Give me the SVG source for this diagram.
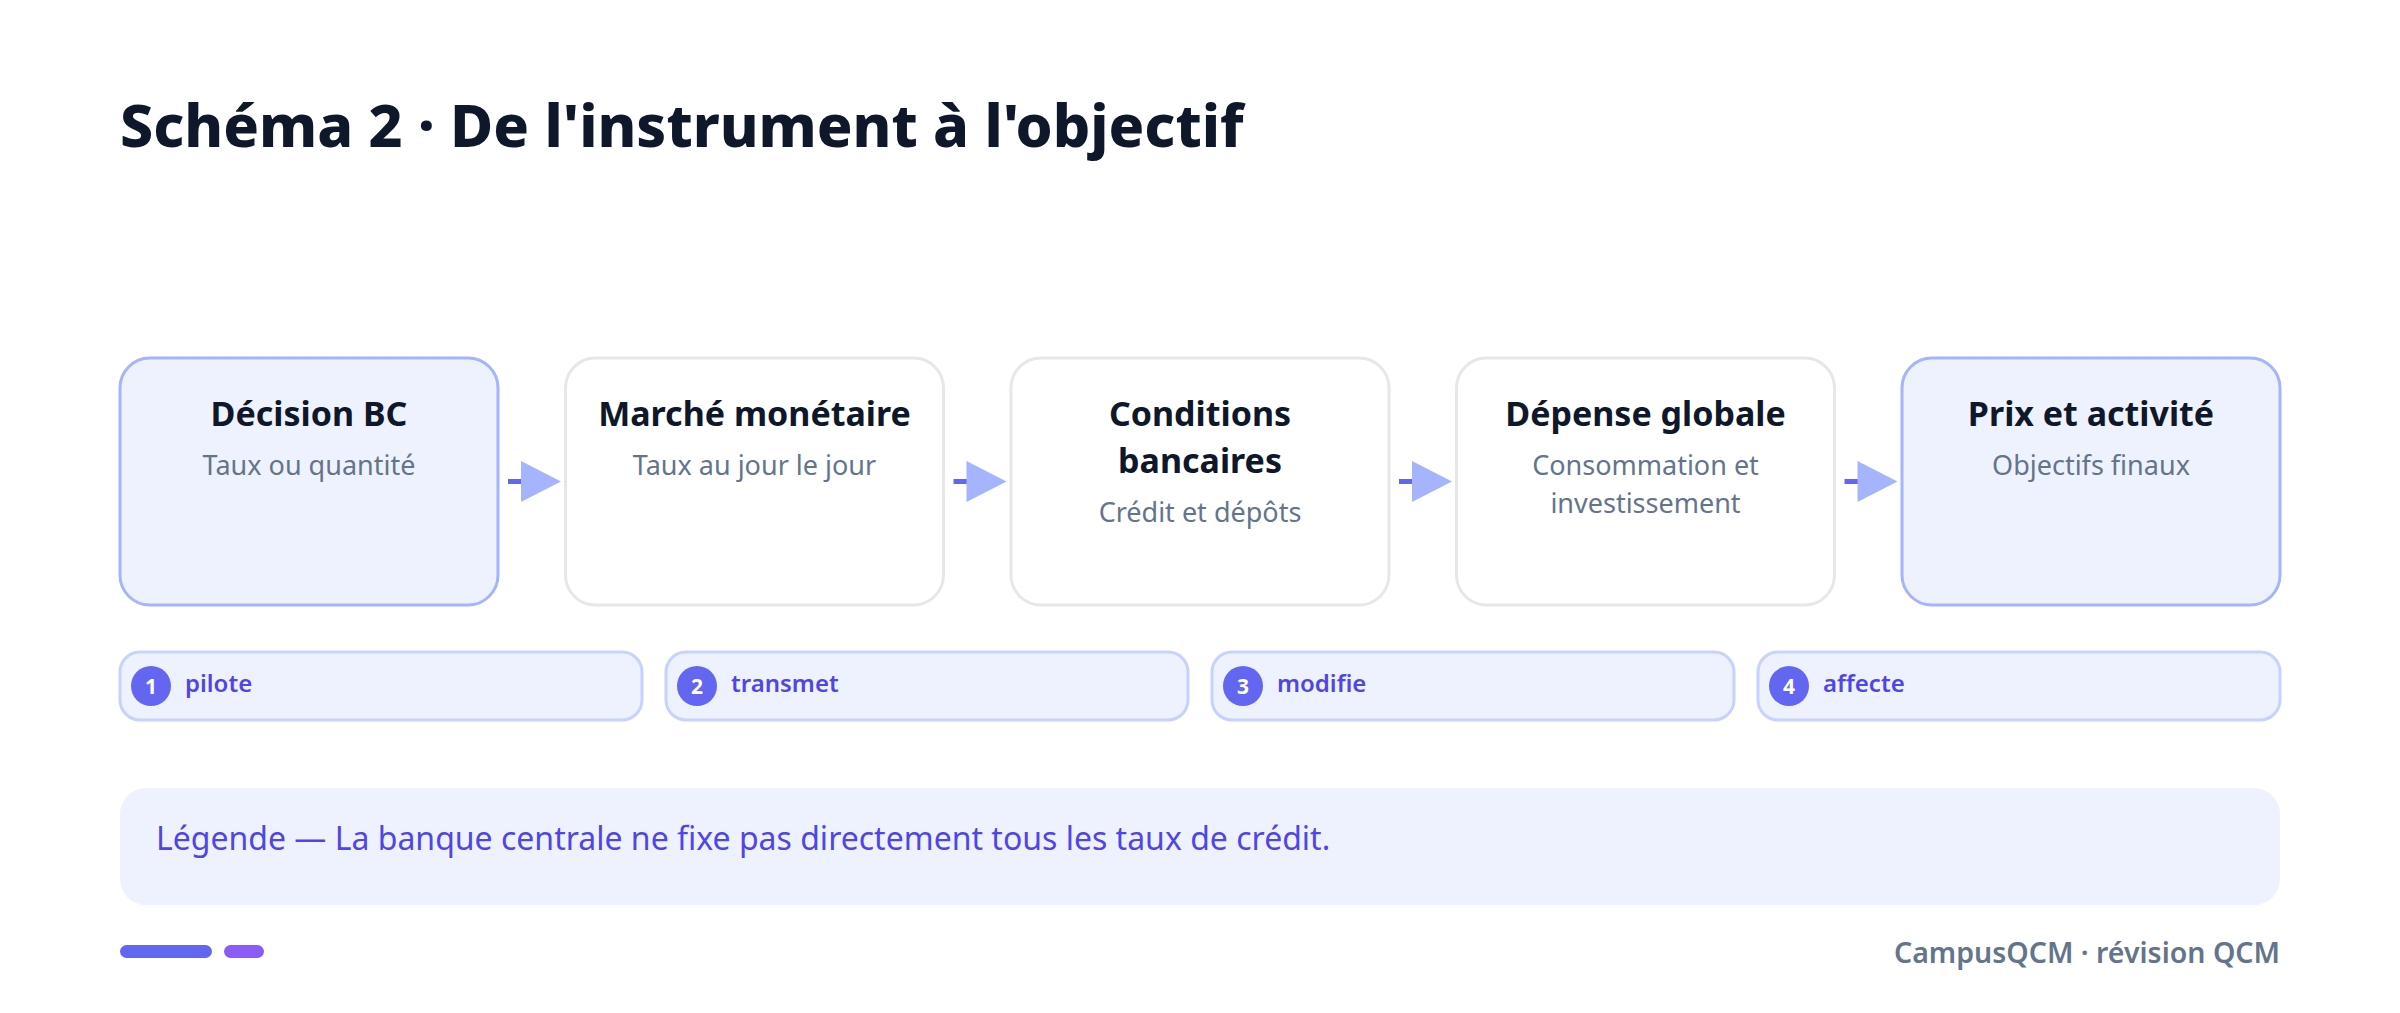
<svg xmlns="http://www.w3.org/2000/svg" width="2400" height="1013" viewBox="0 0 2400 1013">
<style>
.t{font-family:"Noto Sans","Liberation Sans",sans-serif}
.title{font-size:59px;font-weight:800;fill:#0f172a}
.bt{font-size:34px;font-weight:700;fill:#0f172a;text-anchor:middle}
.bs{font-size:27px;fill:#64748b;text-anchor:middle}
.hl{fill:#eef2ff;stroke:#a5b4fc;stroke-width:3}
.pl{fill:#ffffff;stroke:#e5e7eb;stroke-width:3}
.pill{fill:#eef2ff;stroke:#c7d2fe;stroke-width:3}
.num{font-size:21px;font-weight:700;fill:#ffffff;text-anchor:middle}
.lab{font-size:24px;font-weight:600;fill:#4f46e5}
.ln{stroke:#6366f1;stroke-width:5}
.tri{fill:#a5b4fc}
</style>
<rect width="2400" height="1013" fill="#ffffff"/>
<text class="t title" x="120" y="147">Schéma 2 · De l'instrument à l'objectif</text>

<g id="connectors">
<line class="ln" x1="508" y1="481.5" x2="526" y2="481.5"/><polygon class="tri" points="521,461 561,481.5 521,502"/>
<line class="ln" x1="953.5" y1="481.5" x2="971.5" y2="481.5"/><polygon class="tri" points="966.5,461 1006.5,481.5 966.5,502"/>
<line class="ln" x1="1399" y1="481.5" x2="1417" y2="481.5"/><polygon class="tri" points="1412,461 1452,481.5 1412,502"/>
<line class="ln" x1="1844.5" y1="481.5" x2="1862.5" y2="481.5"/><polygon class="tri" points="1857.5,461 1897.5,481.5 1857.5,502"/>
</g>

<g id="node1">
<rect class="hl" x="120" y="358" width="378" height="247" rx="30"/>
<text class="t bt" x="309" y="426">Décision BC</text>
<text class="t bs" x="309" y="475">Taux ou quantité</text>
</g>
<g id="node2">
<rect class="pl" x="565.5" y="358" width="378" height="247" rx="30"/>
<text class="t bt" x="754.5" y="426">Marché monétaire</text>
<text class="t bs" x="754.5" y="475">Taux au jour le jour</text>
</g>
<g id="node3">
<rect class="pl" x="1011" y="358" width="378" height="247" rx="30"/>
<text class="t bt" x="1200" y="426">Conditions</text>
<text class="t bt" x="1200" y="473">bancaires</text>
<text class="t bs" x="1200" y="522">Crédit et dépôts</text>
</g>
<g id="node4">
<rect class="pl" x="1456.5" y="358" width="378" height="247" rx="30"/>
<text class="t bt" x="1645.5" y="426">Dépense globale</text>
<text class="t bs" x="1645.5" y="475">Consommation et</text>
<text class="t bs" x="1645.5" y="513">investissement</text>
</g>
<g id="node5">
<rect class="hl" x="1902" y="358" width="378" height="247" rx="30"/>
<text class="t bt" x="2091" y="426">Prix et activité</text>
<text class="t bs" x="2091" y="475">Objectifs finaux</text>
</g>

<g id="step1">
<rect class="pill" x="120" y="652" width="522" height="68" rx="20"/>
<circle cx="151" cy="686" r="20" fill="#6366f1"/>
<text class="t num" x="151" y="694">1</text>
<text class="t lab" x="185" y="692">pilote</text>
</g>
<g id="step2">
<rect class="pill" x="666" y="652" width="522" height="68" rx="20"/>
<circle cx="697" cy="686" r="20" fill="#6366f1"/>
<text class="t num" x="697" y="694">2</text>
<text class="t lab" x="731" y="692">transmet</text>
</g>
<g id="step3">
<rect class="pill" x="1212" y="652" width="522" height="68" rx="20"/>
<circle cx="1243" cy="686" r="20" fill="#6366f1"/>
<text class="t num" x="1243" y="694">3</text>
<text class="t lab" x="1277" y="692">modifie</text>
</g>
<g id="step4">
<rect class="pill" x="1758" y="652" width="522" height="68" rx="20"/>
<circle cx="1789" cy="686" r="20" fill="#6366f1"/>
<text class="t num" x="1789" y="694">4</text>
<text class="t lab" x="1823" y="692">affecte</text>
</g>

<g id="legend">
<rect x="120" y="788" width="2160" height="117" rx="26" fill="#eef2ff"/>
<text class="t" x="156" y="850" font-size="32" fill="#4f46e5">Légende — La banque centrale ne fixe pas directement tous les taux de crédit.</text>
</g>

<g id="footer">
<rect x="120" y="945" width="92" height="13" rx="6.5" fill="#6366f1"/>
<rect x="224" y="945" width="40" height="13" rx="6.5" fill="#8b5cf6"/>
<text class="t" x="2280" y="963" font-size="28.5" font-weight="600" fill="#64748b" text-anchor="end">CampusQCM · révision QCM</text>
</g>
</svg>
